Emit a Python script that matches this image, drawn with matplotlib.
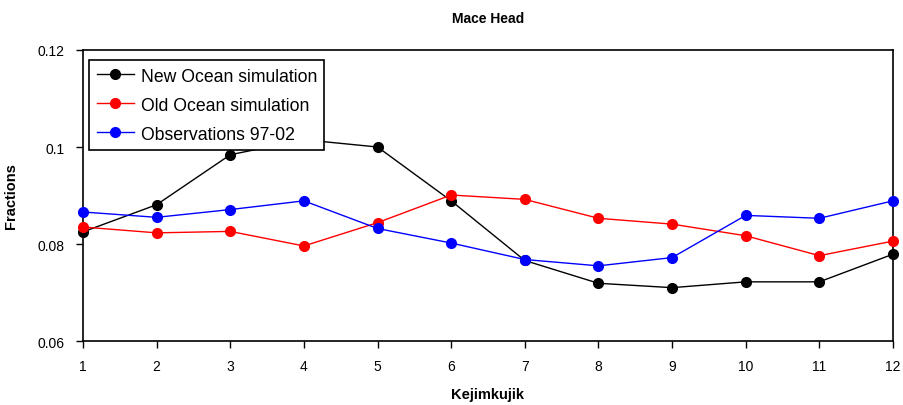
import matplotlib
matplotlib.use("Agg")
import matplotlib.pyplot as plt

plt.rcParams['font.family'] = ['Liberation Sans', 'DejaVu Sans']

months = [1, 2, 3, 4, 5, 6, 7, 8, 9, 10, 11, 12]
new_ocean = [0.0825, 0.0881, 0.0984, 0.1015, 0.1000, 0.0889,
             0.0766, 0.0719, 0.0710, 0.0722, 0.0722, 0.0779]
old_ocean = [0.0835, 0.0823, 0.0826, 0.0796, 0.0844, 0.0901,
             0.0892, 0.0853, 0.0841, 0.0817, 0.0776, 0.0806]
observations = [0.0866, 0.0855, 0.0871, 0.0889, 0.0832, 0.0802,
                0.0768, 0.0755, 0.0772, 0.0859, 0.0853, 0.0889]
y_ticks = [0.06, 0.08, 0.1, 0.12]

fig = plt.figure(figsize=(9.04, 4.06), dpi=100)
ax = fig.add_axes([0.0918, 0.1576, 0.8960, 0.7168])

ax.plot(months, new_ocean, color='black', marker='o', markersize=7, linewidth=1,
        label='New Ocean simulation', clip_on=False, zorder=3)
ax.plot(months, old_ocean, color='red', marker='o', markersize=7, linewidth=1,
        label='Old Ocean simulation', clip_on=False, zorder=3)
ax.plot(months, observations, color='blue', marker='o', markersize=7, linewidth=1,
        label='Observations 97-02', clip_on=False, zorder=3)

ax.set_xlim(1, 12)
ax.set_ylim(0.06, 0.12)
ax.set_xticks(months)
ax.set_yticks(y_ticks)
ax.set_yticklabels(['0.06', '0.08', '0.1', '0.12'])
ax.tick_params(direction='out', length=5, width=1, labelsize=10, pad=8)
for s in ax.spines.values():
    s.set_linewidth(1.2)

ax.set_title('Mace Head', fontsize=10, fontweight='bold', pad=20)
ax.set_xlabel('Kejimkujik', fontsize=10.5, fontweight='bold', labelpad=10)
ax.set_ylabel('Fractions', fontsize=10.5, fontweight='bold', labelpad=14)

leg = ax.legend(loc='upper left', bbox_to_anchor=(0.008, 0.964), fontsize=12.7,
                frameon=True, fancybox=False, framealpha=1, edgecolor='black',
                handlelength=2.1, handletextpad=0.4, borderpad=0.4,
                labelspacing=0.68, borderaxespad=0)
leg.get_frame().set_linewidth(1.2)
leg.set_zorder(5)

fig.savefig('out.png', dpi=100)
